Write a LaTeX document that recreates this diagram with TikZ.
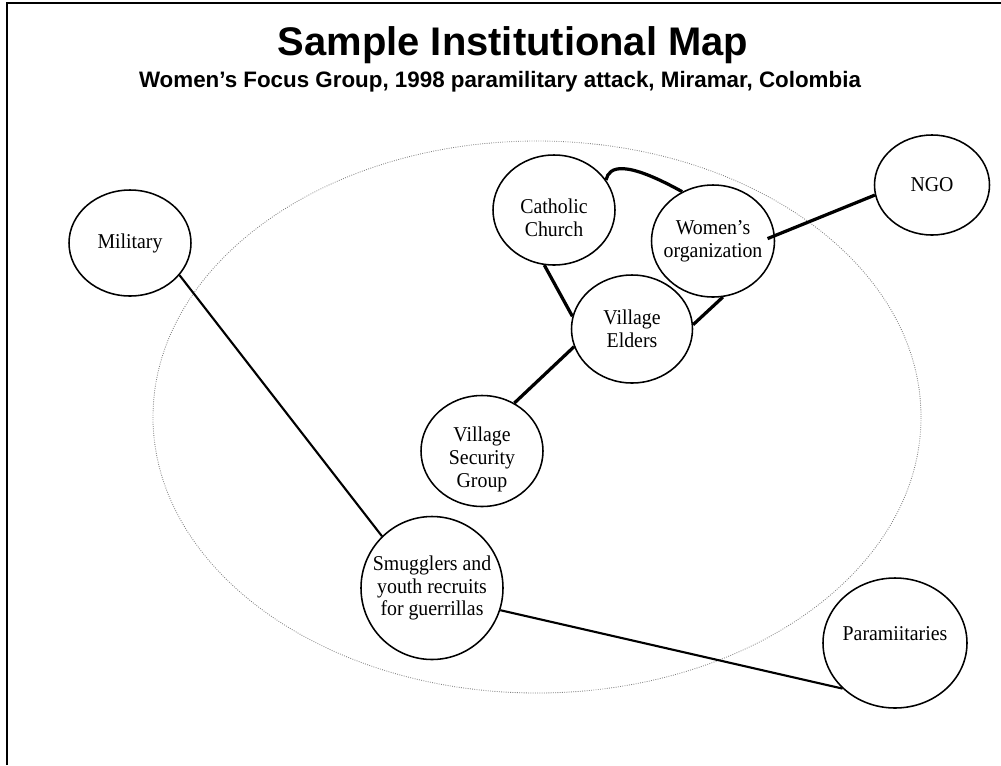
\documentclass[tikz,border=0pt]{standalone}
\usepackage{fontspec}
\setmainfont[FakeStretch=0.94]{Liberation Serif}
\newfontfamily\headfont{Liberation Sans}
\usetikzlibrary{shapes.geometric}
\tikzset{inst/.style 2 args={ellipse,draw,line width=1.1pt,inner sep=0pt,minimum width=#1*0.025cm,minimum height=#2*0.025cm},
	 link/.style={line width=2.3pt},
	 tie/.style={line width=1.5pt},
	 every label/.style={align=center,font=\fontsize{15}{16.2}\selectfont}
	 }

\begin{document}
\begin{tikzpicture}[x=0.025cm,y=-0.025cm] % institutional map, pixel grid
	\useasboundingbox (0,0) rectangle (1001,765);
	\draw[line width=2pt] (7,765) -- (7,3) -- (1001,3);
	\node[anchor=base,font=\headfont\bfseries\fontsize{28.4}{30}\selectfont] (title) at (513,55) {Sample Institutional Map};
	\node[anchor=base,font=\headfont\bfseries\fontsize{15.9}{17}\selectfont] (subtitle) at (500,87) {Women’s Focus Group, 1998 paramilitary attack, Miramar, Colombia};
	\node[ellipse,draw=gray,densely dotted,line width=0.6pt,minimum width=768*0.025cm,minimum height=552*0.025cm] (village) at (537,417) {};
	\node[inst={122}{106}] (mil) at (130,243) [label=center:Military] {};
	\node[inst={115}{100}] (ngo) at (932,185) [label=center:NGO] {};
	\node[inst={122}{110}] (cath) at (554,210) [label={[yshift=-5.5pt]center:Catholic\\Church}] {};
	\node[inst={123}{112}] (women) at (713,241) [label=center:Women’s\\organization] {};
	\node[inst={121}{108}] (elders) at (632,329) [label=center:Village\\Elders] {};
	\node[inst={122}{111}] (sec) at (482,451) [label={[yshift=-6pt]center:Village\\Security\\Group}] {};
	\node[inst={142}{143}] (smug) at (432,588) [label=center:Smugglers and\\youth recruits\\for guerrillas] {};
	\node[inst={144}{130}] (para) at (895,643) [label={[yshift=7pt]center:Paramiitaries}] {};
	\draw[tie] (mil.-33) to (smug.134);
	\draw[tie] (smug.-18) to (para.221);
	\draw[link] (cath.30) .. controls (609,166) and (625,160) .. (women.122);
	\draw[link] (cath.-100) to (elders.168);
	\draw[link] (women.-80) to (elders.4);
	\draw[link] (elders.-163) to (sec.56);
	\draw[link,shorten <=-0.2cm] (women.5) to (ngo.190);
\end{tikzpicture}
\end{document}
